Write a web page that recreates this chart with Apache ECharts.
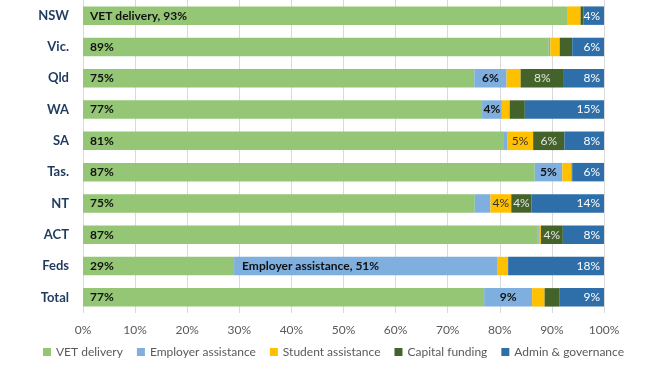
<!DOCTYPE html>
<html><head><meta charset="utf-8">
<script src="https://cdn.jsdelivr.net/npm/echarts@6/dist/echarts.min.js"></script>
<style>html,body{margin:0;padding:0;background:#fff}#c{width:652px;height:365px}</style>
</head><body><div id="c"></div>
<script>
const categories = ['NSW','Vic.','Qld','WA','SA','Tas.','NT','ACT','Feds','Total'];
const vetDelivery        = [92.9, 89.4, 75.1, 76.6, 80.8, 86.7, 75.2, 87.3, 29.0, 77.0];
const employerAssistance = [0.0,  0.3,  6.2,  3.8,  0.6,  5.3,  3.0,  0.2,  50.6, 9.2];
const studentAssistance  = [2.6,  1.8,  2.7,  1.5,  5.0,  1.8,  4.0,  0.4,  2.0,  2.4];
const capitalFunding     = [0.6,  2.4,  8.3,  2.9,  6.0,  0.1,  3.9,  4.2,  0.0,  2.8];
const adminGovernance    = [3.9,  6.1,  7.7,  15.2, 7.6,  6.1,  13.9, 7.9,  18.4, 8.6];
const seriesNames = ['VET delivery','Employer assistance','Student assistance','Capital funding','Admin & governance'];
const tickLabels = ['0%','10%','20%','30%','40%','50%','60%','70%','80%','90%','100%'];
// segments whose label carries the series name
const namedLabels = {'VET delivery':'NSW','Employer assistance':'Feds'};
const labelThreshold = 3.5;

const colors = ['#95C675','#7EAFDF','#FFC000','#43632B','#2E6EA9'];
const dataSets = [vetDelivery, employerAssistance, studentAssistance, capitalFunding, adminGovernance];
const labelStyles = [
  {position:'insideLeft', distance:7, color:'#111', fontWeight:'bold'},
  {position:'inside', color:'#111', fontWeight:'bold'},
  {position:'inside', color:'#333', fontWeight:'normal'},
  {position:'inside', color:'#e6e6e6', fontWeight:'normal'},
  {position:'insideRight', distance:4, color:'#fff', fontWeight:'normal'}
];
const FONT = 'Lato, "Liberation Sans", sans-serif';

const series = seriesNames.map((name, si) => ({
  name, type:'bar', stack:'all', barCategoryGap:'41%',
  itemStyle:{color:colors[si]},
  emphasis:{disabled:true},
  data: dataSets[si].map((v, ci) => {
    const named = namedLabels[name] === categories[ci];
    const pct = Math.round(v) + '%';
    const d = {value:v, label:{show: v >= labelThreshold, formatter: named ? name + ', ' + pct : pct}};
    if (named && si === 1) { d.label.position = 'insideLeft'; d.label.distance = 8; }
    return d;
  }),
  label: Object.assign({show:true, fontSize:12, fontFamily:FONT}, labelStyles[si])
}));

const chart = echarts.init(document.getElementById('c'), null, {renderer:'canvas'});
chart.setOption({
  animation:false,
  backgroundColor:'#fff',
  color: colors,
  grid:{left:83, right:48, top:0, bottom:52, containLabel:false},
  legend:{
    bottom:2, left:38, icon:'rect', itemWidth:8, itemHeight:8, itemGap:14,
    textStyle:{color:'#595959', fontSize:12, fontFamily:FONT},
    data: seriesNames
  },
  xAxis:{
    type:'value', min:0, max:100, interval:10,
    axisLine:{show:false}, axisTick:{show:false},
    splitLine:{show:true, lineStyle:{color:'#D9D9D9', width:1}},
    axisLabel:{color:'#595959', fontSize:12, fontFamily:FONT, margin:11,
      formatter:(v)=> tickLabels[Math.round(v/10)]}
  },
  yAxis:{
    type:'category', data:categories, inverse:true,
    axisLine:{show:false}, axisTick:{show:false},
    axisLabel:{color:'#1F3A5F', fontSize:13, fontWeight:'bold', fontFamily:FONT, margin:14}
  },
  series
});
</script></body></html>
